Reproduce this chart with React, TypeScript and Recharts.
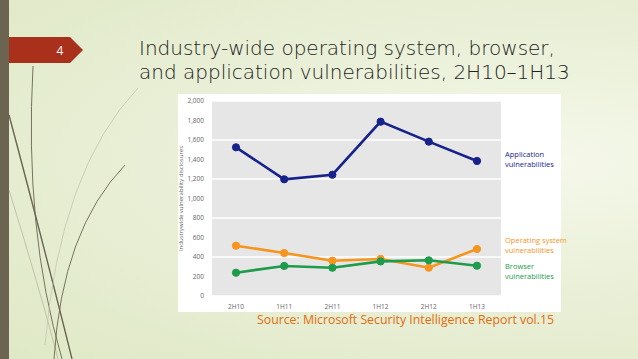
import React from "react";
import { LineChart, Line, XAxis, YAxis, CartesianGrid } from "recharts";

const periods = ["2H10", "1H11", "2H11", "1H12", "2H12", "1H13"];
const appVulns = [1525, 1197, 1244, 1788, 1583, 1385];
const osVulns = [516, 441, 362, 380, 290, 482];
const browserVulns = [239, 308, 290, 355, 366, 311];
const yTicks = [0, 200, 400, 600, 800, 1000, 1200, 1400, 1600, 1800, 2000];

const data = periods.map((p, i) => ({
  period: p,
  app: appVulns[i],
  os: osVulns[i],
  browser: browserVulns[i],
}));

const NAVY = "#17238a";
const ORANGE = "#f7941d";
const GREEN = "#1e9b4b";

const legendStyle: React.CSSProperties = {
  position: "absolute",
  left: 505,
  fontFamily: "'Open Sans', sans-serif",
  fontSize: 7.5,
  lineHeight: "9.5px",
};

function Decor() {
  return (
    <svg width={638} height={359} style={{ position: "absolute", left: 0, top: 0 }}>
      <path d="M33 66 Q 24 230 62 359" stroke="#6b6451" strokeWidth={0.9} fill="none" />
      <path d="M9 115 Q 45 250 72 359" stroke="#6b6451" strokeWidth={1.4} fill="none" />
      <path d="M9 190 Q 40 290 58 359" stroke="#8a8470" strokeWidth={0.8} fill="none" opacity={0.5} />
      <path d="M138 88 Q 60 170 45 345" stroke="#c3c6b0" strokeWidth={1} fill="none" opacity={0.8} />
      <path d="M125 165 Q 62 230 54 359" stroke="#6b6451" strokeWidth={0.9} fill="none" />
      <rect x={0} y={0} width={9} height={359} fill="#6b6451" />
      <path d="M9 37 L70 37 L83 50 L70 63 L9 63 Z" fill="#a9301b" />
      <text x={60} y={55} fill="#fff" fontSize={12} fontFamily="'Open Sans', sans-serif" textAnchor="middle">4</text>
    </svg>
  );
}

export default function App() {
  return (
    <div
      style={{
        position: "absolute",
        left: 0,
        top: 0,
        width: 638,
        height: 359,
        overflow: "hidden",
        background: "radial-gradient(ellipse at 85% 45%, #f5f8ea 0%, #eaf0d8 45%, #dfe8c6 100%)",
      }}
    >
      <Decor />
      <div
        style={{
          position: "absolute",
          left: 139,
          top: 36,
          fontFamily: "'DejaVu Sans', sans-serif",
          fontWeight: 200,
          fontSize: 20,
          lineHeight: "24px",
          color: "#222",
          whiteSpace: "nowrap",
        }}
      >
        Industry-wide operating system, browser,
        <br />
        and application vulnerabilities, 2H10–1H13
      </div>
      <div style={{ position: "absolute", left: 178, top: 94, width: 383, height: 218, background: "#fff" }} />
      <div style={{ position: "absolute", left: 178, top: 94 }}>
        <LineChart width={383} height={216} data={data} margin={{ top: 7, right: 60, left: 0, bottom: 0 }}>
          <CartesianGrid vertical={false} stroke="#ffffff" strokeWidth={1.5} fill="#e6e6e6" />
          <XAxis
            dataKey="period"
            axisLine={false}
            tickLine={false}
            height={14}
            padding={{ left: 24, right: 24 }}
            tick={{ fontSize: 6.5, fill: "#666", fontFamily: "'Open Sans', sans-serif" }}
            interval={0}
          />
          <YAxis
            width={34}
            domain={[0, 2000]}
            ticks={yTicks}
            axisLine={false}
            tickLine={false}
            tick={{ fontSize: 6.5, fill: "#666", fontFamily: "'Open Sans', sans-serif" }}
            tickFormatter={(v: number) => v.toLocaleString("en-US")}
            label={{
              value: "Industrywide vulnerability disclosures",
              angle: -90,
              position: "insideLeft",
              offset: 3,
              style: { fontSize: 6, fill: "#666", fontFamily: "'Open Sans', sans-serif", textAnchor: "middle" },
            }}
          />
          <Line dataKey="app" stroke={NAVY} strokeWidth={2.6} dot={{ r: 3.6, fill: NAVY, stroke: NAVY, strokeWidth: 1 }} isAnimationActive={false} />
          <Line dataKey="os" stroke={ORANGE} strokeWidth={2.6} dot={{ r: 3.6, fill: ORANGE, stroke: ORANGE, strokeWidth: 1 }} isAnimationActive={false} />
          <Line dataKey="browser" stroke={GREEN} strokeWidth={2.6} dot={{ r: 3.6, fill: GREEN, stroke: GREEN, strokeWidth: 1 }} isAnimationActive={false} />
        </LineChart>
      </div>
      <div style={{ ...legendStyle, top: 150, color: NAVY }}>
        Application
        <br />
        vulnerabilities
      </div>
      <div style={{ ...legendStyle, top: 236, color: ORANGE }}>
        Operating system
        <br />
        vulnerabilities
      </div>
      <div style={{ ...legendStyle, top: 262, color: GREEN }}>
        Browser
        <br />
        vulnerabilities
      </div>
      <div
        style={{
          position: "absolute",
          left: 257,
          top: 311,
          fontFamily: "'Open Sans', sans-serif",
          fontSize: 12.3,
          color: "#e46c0a",
          whiteSpace: "nowrap",
        }}
      >
        Source: Microsoft Security Intelligence Report vol.15
      </div>
    </div>
  );
}
